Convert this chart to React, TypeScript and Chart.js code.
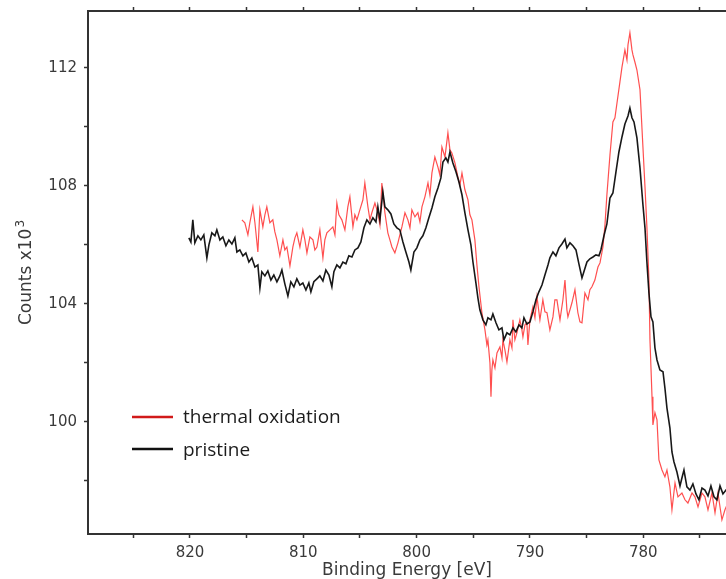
import React, { useEffect, useRef } from "react";
import { Chart, registerables } from "chart.js";

Chart.register(...registerables);

// Binding-energy window (eV); the axis runs from high energy on the left to low on the right
const ENERGY_MIN = 772.7;
const ENERGY_MAX = 829.0;
// Count window, in units of 10^3 counts
const COUNTS_MIN = 96.2;
const COUNTS_MAX = 113.93;

const ENERGY_TICK_LABELS = [780, 790, 800, 810, 820];
const COUNTS_TICK_LABELS = [100, 104, 108, 112];

const X_TITLE = "Binding Energy [eV]";
const Y_TITLE = "Counts x10";
const Y_TITLE_EXP = "3";

const SERIES_NAMES = ["thermal oxidation", "pristine"];

// [binding energy (eV), counts x10^3]
const THERMAL_OXIDATION: [number, number][] = [
  [815.42, 106.85], [815.16, 106.75], [814.89, 106.34], [814.72, 106.75], [814.45, 107.29],
  [814.27, 106.75], [814.01, 105.76], [813.83, 107.19], [813.57, 106.61], [813.39, 107.02],
  [813.22, 107.29], [812.95, 106.75], [812.69, 106.85], [812.51, 106.44], [812.33, 106.17],
  [812.07, 105.63], [811.8, 106.17], [811.63, 105.83], [811.45, 105.93], [811.18, 105.29],
  [810.92, 105.93], [810.74, 106.24], [810.57, 106.41], [810.3, 105.93], [810.04, 106.51],
  [809.86, 106.17], [809.68, 105.73], [809.42, 106.27], [809.15, 106.17], [808.98, 105.83],
  [808.8, 105.93], [808.54, 106.51], [808.27, 105.56], [808.1, 106.17], [807.92, 106.41],
  [807.65, 106.51], [807.39, 106.61], [807.21, 106.34], [807.04, 107.42], [806.86, 107.02],
  [806.6, 106.85], [806.33, 106.51], [806.07, 107.29], [805.89, 107.63], [805.62, 106.61],
  [805.45, 107.02], [805.27, 106.85], [805.01, 107.19], [804.74, 107.53], [804.57, 108.1],
  [804.3, 107.29], [804.12, 106.85], [803.95, 107.09], [803.68, 107.42], [803.42, 107.09],
  [803.24, 106.68], [803.07, 108.1], [802.8, 107.09], [802.54, 106.41], [802.36, 106.17],
  [802.18, 105.93], [801.92, 105.73], [801.65, 106.07], [801.48, 106.34], [801.3, 106.61],
  [801.03, 107.09], [800.77, 106.85], [800.59, 106.58], [800.42, 107.19], [800.15, 106.95],
  [799.89, 107.09], [799.71, 106.78], [799.53, 107.29], [799.27, 107.63], [799.0, 108.1],
  [798.83, 107.7], [798.65, 108.44], [798.39, 108.98], [798.12, 108.64], [797.95, 108.37],
  [797.77, 109.32], [797.5, 108.98], [797.24, 109.8], [797.06, 109.22], [796.89, 109.12],
  [796.62, 108.78], [796.36, 108.31], [796.18, 108.03], [796.0, 108.44], [795.74, 107.87],
  [795.47, 107.53], [795.3, 107.02], [795.12, 106.85], [794.86, 106.17], [794.68, 105.32],
  [794.5, 104.58], [794.24, 103.7], [793.97, 103.12], [793.8, 102.61], [793.71, 102.78],
  [793.53, 102.0], [793.44, 100.85], [793.36, 101.76], [793.27, 102.1], [793.09, 101.83],
  [792.91, 102.34], [792.65, 102.54], [792.47, 102.17], [792.39, 102.78], [792.21, 102.44],
  [792.03, 102.03], [791.77, 102.78], [791.59, 102.51], [791.5, 103.46], [791.33, 102.78],
  [791.15, 103.02], [790.89, 103.46], [790.71, 103.12], [790.62, 102.88], [790.44, 103.29],
  [790.27, 103.36], [790.18, 102.61], [790.0, 103.46], [789.74, 103.9], [789.56, 103.53],
  [789.38, 104.24], [789.12, 103.46], [788.86, 104.14], [788.68, 103.73], [788.5, 103.7],
  [788.24, 103.12], [787.97, 103.56], [787.8, 104.14], [787.62, 104.14], [787.35, 103.46],
  [787.09, 104.14], [786.91, 104.81], [786.74, 103.8], [786.65, 103.56], [786.3, 104.03],
  [786.03, 104.48], [785.77, 103.7], [785.59, 103.39], [785.41, 103.36], [785.15, 104.37],
  [784.88, 104.14], [784.71, 104.48], [784.53, 104.58], [784.27, 104.81], [784.0, 105.25],
  [783.82, 105.39], [783.56, 105.93], [783.38, 106.68], [783.21, 107.7], [782.94, 109.05],
  [782.68, 110.17], [782.5, 110.31], [782.32, 110.81], [782.06, 111.53], [781.88, 112.03],
  [781.62, 112.61], [781.44, 112.27], [781.35, 112.78], [781.18, 113.19], [781.0, 112.61],
  [780.91, 112.44], [780.74, 112.2], [780.56, 111.93], [780.29, 111.26], [780.03, 109.32],
  [779.85, 107.97], [779.68, 106.61], [779.5, 104.81], [779.41, 102.78], [779.32, 101.83],
  [779.23, 100.85], [779.15, 99.9], [778.97, 100.31], [778.79, 100.07], [778.62, 98.71],
  [778.35, 98.37], [778.09, 98.14], [777.91, 98.37], [777.65, 97.8], [777.47, 97.02],
  [777.2, 97.93], [776.94, 97.46], [776.59, 97.59], [776.32, 97.36], [776.06, 97.25],
  [775.7, 97.59], [775.44, 97.46], [775.17, 97.12], [774.82, 97.59], [774.56, 97.46],
  [774.29, 97.02], [773.94, 97.59], [773.67, 96.92], [773.41, 97.59], [773.06, 96.68],
  [772.79, 97.02], [772.5, 97.3],
];

const PRISTINE: [number, number][] = [
  [820.1, 106.24], [819.92, 106.1], [819.75, 106.85], [819.57, 106.07], [819.3, 106.31],
  [819.04, 106.17], [818.78, 106.34], [818.51, 105.56], [818.33, 106.0], [818.07, 106.41],
  [817.8, 106.31], [817.63, 106.51], [817.36, 106.17], [817.1, 106.27], [816.83, 105.97],
  [816.57, 106.17], [816.3, 106.03], [816.04, 106.24], [815.86, 105.76], [815.6, 105.83],
  [815.33, 105.63], [815.07, 105.73], [814.8, 105.42], [814.54, 105.56], [814.27, 105.25],
  [814.01, 105.32], [813.83, 104.54], [813.66, 105.09], [813.39, 104.95], [813.13, 105.12],
  [812.86, 104.81], [812.6, 104.98], [812.33, 104.75], [812.07, 104.95], [811.89, 105.15],
  [811.63, 104.68], [811.36, 104.27], [811.1, 104.75], [810.83, 104.58], [810.57, 104.85],
  [810.3, 104.64], [810.04, 104.71], [809.77, 104.47], [809.51, 104.71], [809.33, 104.41],
  [809.07, 104.75], [808.8, 104.85], [808.54, 104.95], [808.27, 104.78], [808.01, 105.15],
  [807.74, 104.98], [807.48, 104.58], [807.3, 105.09], [807.04, 105.32], [806.77, 105.22],
  [806.51, 105.42], [806.24, 105.36], [805.98, 105.63], [805.71, 105.59], [805.45, 105.83],
  [805.18, 105.9], [804.92, 106.1], [804.65, 106.58], [804.39, 106.85], [804.12, 106.71],
  [803.86, 106.92], [803.59, 106.78], [803.42, 107.29], [803.24, 106.85], [802.98, 107.8],
  [802.8, 107.29], [802.54, 107.19], [802.27, 107.05], [802.01, 106.71], [801.74, 106.58],
  [801.48, 106.51], [801.21, 106.1], [800.95, 105.76], [800.68, 105.42], [800.51, 105.15],
  [800.24, 105.76], [799.98, 105.9], [799.71, 106.17], [799.45, 106.31], [799.18, 106.58],
  [798.92, 106.92], [798.65, 107.25], [798.39, 107.63], [798.12, 107.93], [797.86, 108.27],
  [797.68, 108.81], [797.42, 108.95], [797.24, 108.81], [797.06, 109.15], [796.8, 108.78],
  [796.53, 108.48], [796.27, 108.14], [796.0, 107.7], [795.74, 107.09], [795.47, 106.51],
  [795.21, 106.0], [795.03, 105.42], [794.77, 104.71], [794.59, 104.2], [794.42, 103.8],
  [794.15, 103.46], [793.89, 103.29], [793.71, 103.53], [793.44, 103.46], [793.27, 103.66],
  [793.0, 103.36], [792.74, 103.12], [792.47, 103.19], [792.3, 102.78], [792.03, 103.02],
  [791.77, 102.95], [791.5, 103.19], [791.24, 103.05], [790.97, 103.29], [790.71, 103.19],
  [790.53, 103.53], [790.27, 103.32], [790.0, 103.39], [789.74, 103.73], [789.47, 104.14],
  [789.21, 104.41], [788.94, 104.64], [788.68, 104.98], [788.41, 105.32], [788.24, 105.56],
  [787.97, 105.76], [787.71, 105.63], [787.44, 105.9], [787.18, 106.03], [786.91, 106.2],
  [786.74, 105.9], [786.47, 106.07], [786.21, 105.97], [785.94, 105.83], [785.68, 105.36],
  [785.41, 104.88], [785.24, 105.09], [784.97, 105.42], [784.71, 105.53], [784.44, 105.59],
  [784.18, 105.66], [783.91, 105.63], [783.74, 105.83], [783.47, 106.31], [783.21, 106.71],
  [782.94, 107.59], [782.68, 107.76], [782.41, 108.48], [782.15, 109.15], [781.88, 109.66],
  [781.62, 110.1], [781.35, 110.37], [781.18, 110.64], [781.0, 110.31], [780.82, 110.17],
  [780.56, 109.63], [780.29, 108.61], [780.03, 107.36], [779.85, 106.58], [779.68, 105.42],
  [779.5, 104.37], [779.32, 103.56], [779.15, 103.39], [778.97, 102.51], [778.79, 102.1],
  [778.53, 101.76], [778.26, 101.7], [778.09, 101.15], [777.91, 100.47], [777.65, 99.8],
  [777.47, 98.98], [777.29, 98.64], [777.03, 98.3], [776.76, 97.83], [776.59, 98.1],
  [776.41, 98.37], [776.15, 97.8], [775.88, 97.69], [775.62, 97.9], [775.35, 97.56],
  [775.09, 97.36], [774.82, 97.76], [774.56, 97.69], [774.29, 97.49], [774.03, 97.83],
  [773.76, 97.46], [773.5, 97.36], [773.23, 97.83], [772.97, 97.56], [772.7, 97.69],
  [772.5, 97.6],
];

const SERIES_COLORS = ["rgba(255, 35, 35, 0.8)", "rgba(12, 12, 12, 0.95)"];
const LEGEND_COLORS = ["#d11a1a", "#111111"];

const AXIS_COLOR = "#333333";
const TEXT_COLOR = "#3a3a3a";
const AXIS_FONT = "DejaVu Sans";

const toPoints = (rows: [number, number][]) => rows.map(([x, y]) => ({ x, y }));

// Fix a scale's thickness and drop the label-overflow padding Chart.js reserves
const fixSize = (prop: "width" | "height", size: number) => (s: any) => {
  s[prop] = size;
  s.paddingTop = 0;
  s.paddingBottom = 0;
  s.paddingLeft = 0;
  s.paddingRight = 0;
};

// Axis titles and the inset legend, painted on top of the plot
const overlayPlugin = {
  id: "spectrumOverlay",
  afterDraw(chart: Chart) {
    const { ctx, chartArea } = chart;
    ctx.save();

    // x-axis title, centred under the plot
    ctx.fillStyle = TEXT_COLOR;
    ctx.font = `17px "${AXIS_FONT}"`;
    ctx.textAlign = "left";
    ctx.textBaseline = "alphabetic";
    const xw = ctx.measureText(X_TITLE).width;
    ctx.fillText(X_TITLE, (chartArea.left + chartArea.right) / 2 - xw / 2, 575);

    // y-axis title with a raised exponent, rotated
    ctx.save();
    ctx.translate(31, (chartArea.top + chartArea.bottom) / 2);
    ctx.rotate(-Math.PI / 2);
    ctx.font = `17px "${AXIS_FONT}"`;
    const w1 = ctx.measureText(Y_TITLE).width;
    ctx.font = `12px "${AXIS_FONT}"`;
    const w2 = ctx.measureText(Y_TITLE_EXP).width;
    const start = -(w1 + w2 + 1) / 2;
    ctx.font = `17px "${AXIS_FONT}"`;
    ctx.fillText(Y_TITLE, start, 0);
    ctx.font = `12px "${AXIS_FONT}"`;
    ctx.fillText(Y_TITLE_EXP, start + w1 + 1, -7);
    ctx.restore();

    // inset legend
    const rows = [
      { label: SERIES_NAMES[0], color: LEGEND_COLORS[0], lineY: 417, baseY: 423 },
      { label: SERIES_NAMES[1], color: LEGEND_COLORS[1], lineY: 449, baseY: 456 },
    ];
    ctx.lineCap = "butt";
    for (const r of rows) {
      ctx.strokeStyle = r.color;
      ctx.lineWidth = 2.5;
      ctx.beginPath();
      ctx.moveTo(132, r.lineY);
      ctx.lineTo(173, r.lineY);
      ctx.stroke();
      ctx.fillStyle = "#1c1c1c";
      ctx.font = `19px "Open Sans"`;
      ctx.textAlign = "left";
      ctx.fillText(r.label, 183, r.baseY);
    }
    ctx.restore();
  },
};

export default function App() {
  const canvasRef = useRef<HTMLCanvasElement | null>(null);

  useEffect(() => {
    const canvas = canvasRef.current;
    if (!canvas) return;

    const tickFont = { family: AXIS_FONT, size: 15 };
    const tickGrid = {
      display: true,
      drawOnChartArea: false,
      drawTicks: true,
      tickLength: 4,
      tickColor: AXIS_COLOR,
      tickWidth: 1.5,
    };
    const axisBorder = { display: true, color: AXIS_COLOR, width: 2 };

    const chart = new Chart(canvas, {
      type: "line",
      data: {
        datasets: [
          {
            label: SERIES_NAMES[1],
            data: toPoints(PRISTINE),
            borderColor: SERIES_COLORS[1],
            borderWidth: 1.6,
            pointRadius: 0,
            tension: 0,
            order: 0,
            xAxisID: "x",
            yAxisID: "y",
          },
          {
            label: SERIES_NAMES[0],
            data: toPoints(THERMAL_OXIDATION),
            borderColor: SERIES_COLORS[0],
            borderWidth: 1.2,
            pointRadius: 0,
            tension: 0,
            order: 1,
            xAxisID: "x",
            yAxisID: "y",
          },
        ],
      },
      options: {
        responsive: false,
        animation: false,
        devicePixelRatio: 1,
        events: [],
        layout: { padding: 0 },
        plugins: {
          legend: { display: false },
          tooltip: { enabled: false },
        },
        scales: {
          x: {
            type: "linear",
            position: "bottom",
            reverse: true,
            min: ENERGY_MIN,
            max: ENERGY_MAX,
            afterFit: fixSize("height", 45),
            border: axisBorder,
            grid: tickGrid,
            ticks: {
              stepSize: 5,
              includeBounds: false,
              autoSkip: false,
              maxRotation: 0,
              padding: 6,
              color: TEXT_COLOR,
              font: tickFont,
              callback: (v: any) => (ENERGY_TICK_LABELS.includes(Number(v)) ? String(v) : ""),
            },
          },
          x2: {
            type: "linear",
            position: "top",
            reverse: true,
            min: ENERGY_MIN,
            max: ENERGY_MAX,
            afterFit: fixSize("height", 11),
            border: axisBorder,
            grid: tickGrid,
            ticks: {
              stepSize: 5,
              includeBounds: false,
              autoSkip: false,
              maxRotation: 0,
              display: false,
            },
          },
          y: {
            type: "linear",
            position: "left",
            min: COUNTS_MIN,
            max: COUNTS_MAX,
            afterFit: fixSize("width", 88),
            border: axisBorder,
            grid: tickGrid,
            ticks: {
              stepSize: 2,
              includeBounds: false,
              autoSkip: false,
              padding: 7,
              color: TEXT_COLOR,
              font: tickFont,
              callback: (v: any) => (COUNTS_TICK_LABELS.includes(Number(v)) ? String(v) : ""),
            },
          },
        },
      },
      plugins: [overlayPlugin],
    } as any);

    return () => chart.destroy();
  }, []);

  return (
    <div style={{ position: "absolute", left: 0, top: 0, width: 726, height: 579, background: "#ffffff" }}>
      <canvas ref={canvasRef} width={726} height={579} style={{ display: "block" }} />
    </div>
  );
}
